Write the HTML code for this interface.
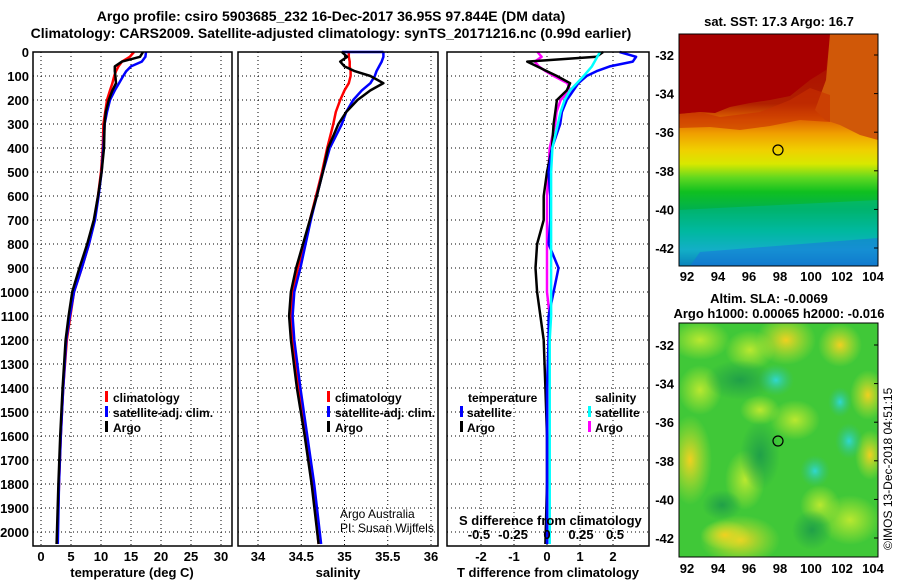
<!DOCTYPE html>
<html><head><meta charset="utf-8"><style>
html,body{margin:0;padding:0;background:#fff;}
svg{display:block;font-family:"Liberation Sans",Arial,sans-serif;font-weight:bold;}
</style></head><body>
<svg id="c" width="900" height="580" viewBox="0 0 900 580" xmlns="http://www.w3.org/2000/svg">
<defs>
<linearGradient id="sstg" x1="0" y1="0" x2="0" y2="1">
<stop offset="0" stop-color="#a80000"/><stop offset="0.30" stop-color="#b02000"/>
<stop offset="0.37" stop-color="#e06800"/><stop offset="0.43" stop-color="#f0a000"/>
<stop offset="0.50" stop-color="#f0d000"/><stop offset="0.56" stop-color="#d8e800"/>
<stop offset="0.62" stop-color="#60d820"/><stop offset="0.68" stop-color="#10c020"/>
<stop offset="0.76" stop-color="#00b050"/><stop offset="0.85" stop-color="#00b8a0"/>
<stop offset="0.93" stop-color="#20a8e0"/><stop offset="1" stop-color="#1060d0"/></linearGradient>
<radialGradient id="cy"><stop offset="0" stop-color="#30d8d0"/><stop offset="1" stop-color="#30c080" stop-opacity="0"/></radialGradient>
<radialGradient id="yl"><stop offset="0" stop-color="#f0d020"/><stop offset="1" stop-color="#c8e830" stop-opacity="0"/></radialGradient>
<radialGradient id="lg"><stop offset="0" stop-color="#b8e830"/><stop offset="1" stop-color="#b8e830" stop-opacity="0"/></radialGradient>
<radialGradient id="dg"><stop offset="0" stop-color="#20a048"/><stop offset="1" stop-color="#20a048" stop-opacity="0"/></radialGradient>
<clipPath id="m1"><rect x="679" y="34" width="199" height="232"/></clipPath>
<clipPath id="m2"><rect x="679" y="323" width="199" height="234"/></clipPath>
</defs>
<text x="331" y="21" text-anchor="middle" font-size="14">Argo profile: csiro 5903685_232 16-Dec-2017 36.95S 97.844E (DM data)</text>
<text x="331" y="38" text-anchor="middle" font-size="14">Climatology: CARS2009. Satellite-adjusted climatology: synTS_20171216.nc (0.99d earlier)</text>
<g id="grid"></g>
<g id="curves"></g>
<g id="frames"></g>
<g id="labels" font-size="13"></g>

<g font-size="12">
<rect x="105" y="391" width="3" height="11" fill="#f00"/><text x="113" y="402">climatology</text>
<rect x="105" y="406" width="3" height="11" fill="#00f"/><text x="113" y="417">satellite-adj. clim.</text>
<rect x="105" y="421" width="3" height="11" fill="#000"/><text x="113" y="432">Argo</text>
</g>
<g font-size="12">
<rect x="327" y="391" width="3" height="11" fill="#f00"/><text x="335" y="402">climatology</text>
<rect x="327" y="406" width="3" height="11" fill="#00f"/><text x="335" y="417">satellite-adj. clim.</text>
<rect x="327" y="421" width="3" height="11" fill="#000"/><text x="335" y="432">Argo</text>
</g>
<g font-size="12">
<text x="468" y="402">temperature</text><text x="595" y="402">salinity</text>
<rect x="460" y="406" width="3" height="11" fill="#00f"/><text x="467" y="417">satellite</text>
<rect x="460" y="421" width="3" height="11" fill="#000"/><text x="467" y="432">Argo</text>
<rect x="588" y="406" width="3" height="11" fill="#0ff"/><text x="595" y="417">satellite</text>
<rect x="588" y="421" width="3" height="11" fill="#f0f"/><text x="595" y="432">Argo</text>
</g>
<text x="340" y="518" font-size="12" font-weight="normal">Argo Australia</text>
<text x="340" y="532" font-size="12" font-weight="normal">PI: Susan Wijffels</text>
<text x="459" y="525" font-size="13">S difference from climatology</text>

<text x="779" y="26" text-anchor="middle" font-size="13">sat. SST: 17.3 Argo: 16.7</text>
<g clip-path="url(#m1)">
<rect x="679" y="34" width="199" height="232" fill="url(#sstg)"/>
<polygon points="679,34 830,34 826,70 810,80 800,88 790,96 770,100 750,103 730,107 715,113 700,112 679,114" fill="#a80000"/>
<polygon points="830,34 878,34 878,140 860,135 840,125 825,120 815,110 826,80" fill="#d05808"/>
<polygon points="679,114 700,112 720,117 760,112 790,100 810,88 830,95 830,122 800,120 770,126 740,130 710,127 679,128" fill="#c83000" opacity="0.6"/>
<polygon points="679,210 878,200 878,266 679,266" fill="#00b8a0" opacity="0.4"/>
<polygon points="700,252 878,238 878,266 690,266" fill="#1870e0" opacity="0.5"/>
</g>
<circle cx="778" cy="150" r="5" fill="none" stroke="#000" stroke-width="1.2"/>
<rect x="679" y="34" width="199" height="232" fill="none" stroke="#000"/>

<text x="769" y="303" text-anchor="middle" font-size="13">Altim. SLA: -0.0069</text>
<text x="779" y="318" text-anchor="middle" font-size="13">Argo h1000: 0.00065 h2000: -0.016</text>
<g clip-path="url(#m2)">
<rect x="679" y="323" width="199" height="234" fill="#40c838"/>
<ellipse cx="700" cy="340" rx="30" ry="20" fill="url(#lg)"/>
<ellipse cx="750" cy="350" rx="25" ry="20" fill="url(#lg)"/>
<ellipse cx="700" cy="390" rx="22" ry="25" fill="url(#lg)"/>
<ellipse cx="760" cy="410" rx="20" ry="15" fill="url(#lg)"/>
<ellipse cx="795" cy="420" rx="25" ry="20" fill="url(#lg)"/>
<ellipse cx="745" cy="480" rx="20" ry="30" fill="url(#lg)"/>
<ellipse cx="850" cy="520" rx="30" ry="25" fill="url(#lg)"/>
<ellipse cx="820" cy="505" rx="20" ry="20" fill="url(#lg)"/>
<ellipse cx="786" cy="340" rx="30" ry="25" fill="url(#yl)"/>
<ellipse cx="840" cy="345" rx="22" ry="22" fill="url(#yl)"/>
<ellipse cx="868" cy="395" rx="18" ry="25" fill="url(#yl)"/>
<ellipse cx="690" cy="460" rx="22" ry="45" fill="url(#yl)"/>
<ellipse cx="740" cy="540" rx="40" ry="25" fill="url(#yl)"/>
<ellipse cx="870" cy="455" rx="15" ry="25" fill="url(#yl)"/>
<ellipse cx="725" cy="535" rx="25" ry="15" fill="url(#yl)"/>
<ellipse cx="760" cy="455" rx="20" ry="35" fill="url(#dg)"/>
<ellipse cx="722" cy="505" rx="20" ry="15" fill="url(#dg)"/>
<ellipse cx="812" cy="530" rx="20" ry="20" fill="url(#dg)"/>
<ellipse cx="740" cy="380" rx="35" ry="20" fill="url(#dg)"/>
<ellipse cx="776" cy="380" rx="18" ry="16" fill="url(#cy)"/>
<ellipse cx="840" cy="402" rx="12" ry="15" fill="url(#cy)"/>
<ellipse cx="849" cy="441" rx="14" ry="18" fill="url(#cy)"/>
<ellipse cx="815" cy="471" rx="15" ry="16" fill="url(#cy)"/>
</g>
<circle cx="778" cy="441" r="5" fill="none" stroke="#000" stroke-width="1.2"/>
<rect x="679" y="323" width="199" height="234" fill="none" stroke="#000"/>
<g id="maplabels" font-size="13"></g>
<text transform="translate(892,550) rotate(-90)" font-size="12" font-weight="normal">©IMOS 13-Dec-2018 04:51:15</text>
</svg>
<script>
const depths = [0,20,40,60,80,100,130,160,200,250,300,400,500,600,700,800,900,1000,1100,1200,1400,1600,1800,2050];
const argoT = [17.0,16.5,13.5,12.3,12.3,12.4,12.5,11.9,11.3,10.8,10.6,10.5,10.1,9.5,8.8,7.7,6.4,5.2,4.6,4.1,3.6,3.2,2.9,2.6];
const climT = [15.5,14.8,13.5,12.9,12.5,12.2,11.9,11.5,11.0,10.7,10.4,10.3,10.0,9.5,8.9,8.0,6.8,5.5,4.9,4.3,3.7,3.3,3.0,2.7];
const satT = [17.5,17.4,16.8,15.0,14.2,13.7,13.0,12.3,11.5,11.0,10.6,10.4,10.1,9.6,9.0,8.0,6.8,5.5,4.8,4.2,3.7,3.3,3.0,2.8];
const argoS = [34.97,35.03,34.95,35.0,35.12,35.3,35.45,35.3,35.15,35.02,34.93,34.81,34.75,34.68,34.6,34.52,34.44,34.38,34.36,34.38,34.45,34.54,34.62,34.7];
const climS = [35.05,35.05,35.06,35.06,35.07,35.07,35.05,35.0,34.95,34.9,34.87,34.8,34.74,34.67,34.6,34.53,34.46,34.4,34.38,34.4,34.47,34.55,34.63,34.7];
const satS = [35.45,35.45,35.43,35.4,35.37,35.35,35.3,35.2,35.1,35.02,34.97,34.83,34.75,34.68,34.61,34.55,34.49,34.42,34.4,34.42,34.49,34.57,34.65,34.73];
const satSsurfaceStart = 34.97;
const dTsat = [2.2,2.7,2.6,1.9,1.5,1.2,0.95,0.8,0.6,0.45,0.4,0.15,0.05,0.1,0.1,0.05,0.35,0.2,0.05,0.05,0.0,0.0,0.0,0.0];
const dTargo = [1.7,1.5,-0.6,-0.3,0.0,0.3,0.7,0.6,0.3,0.25,0.2,0.15,0.0,-0.1,-0.1,-0.3,-0.35,-0.3,-0.2,-0.1,-0.05,0.0,0.0,-0.05];
const dSsat = [0.39,0.37,0.35,0.33,0.3,0.27,0.22,0.17,0.13,0.1,0.08,0.04,0.03,0.03,0.03,0.03,0.03,0.03,0.03,0.02,0.02,0.02,0.02,0.02];
const dSargo = [-0.07,-0.04,-0.09,-0.06,-0.01,0.05,0.15,0.17,0.1,0.07,0.06,0.02,0.01,0.0,0.0,0.0,0.0,0.0,0.02,0.01,0.01,0.01,0.01,0.01];
const depthTicks = [0,100,200,300,400,500,600,700,800,900,1000,1100,1200,1300,1400,1500,1600,1700,1800,1900,2000];
const tTicks = [0,5,10,15,20,25,30];
const sTicks = [34,34.5,35,35.5,36];
const sTickLabels = ["34","34.5","35","35.5","36"];
const dtTicks = [-2,-1,0,1,2];
const dsTicks = [-0.5,-0.25,0,0.25,0.5];
const dsTickLabels = ["-0.5","-0.25","0","0.25","0.5"];
const latTicks = [-32,-34,-36,-38,-40,-42];
const lonTicks = [92,94,96,98,100,102,104];

const NS='http://www.w3.org/2000/svg';
const Y0=52, YB=546;
const yD = d => Y0 + d*0.24;
const xT = t => 41 + t*6;
const xS = s => 258 + (s-34)*86.5;
const xDT = t => 547 + t*33;
const xDS = s => 547 + s*136;
const yLat1 = l => 55 + (-32 - l)*19.3;
const yLat2 = l => 345 + (-32 - l)*19.3;
const xLon = l => 687 + (l-92)*15.5;
const panels = [[33,232],[238,438],[447,649]];

function mk(tag, attrs, parent){const e=document.createElementNS(NS,tag);for(const k in attrs)e.setAttribute(k,attrs[k]);parent.appendChild(e);return e;}
const grid=document.getElementById('grid'), curves=document.getElementById('curves'), frames=document.getElementById('frames'), labels=document.getElementById('labels'), ml=document.getElementById('maplabels');
const dot={stroke:'#000','stroke-width':1,'stroke-dasharray':'1 3'};

panels.forEach(([a,b],i)=>{
  depthTicks.forEach(d=>{ if(d>0){const l=mk('line',Object.assign({x1:a,x2:b,y1:yD(d),y2:yD(d)},dot),grid);
    
    }});
  const f=mk('rect',{x:a,y:Y0,width:b-a,height:YB-Y0,fill:'none',stroke:'#000','stroke-width':1.5},frames);
  
  
});
function vgrid(vals,fx){vals.forEach(v=>{const l=mk('line',Object.assign({x1:fx(v),x2:fx(v),y1:Y0,y2:YB},dot),grid);
  
  });}
vgrid(tTicks,xT); vgrid(sTicks,xS); vgrid(dtTicks,xDT);

depthTicks.forEach(d=>{const t=mk('text',{x:29,y:yD(d)+5,'text-anchor':'end'},labels);t.textContent=d;
  
  });
function xlabels(vals,txts,fx,y){vals.forEach((v,i)=>{const t=mk('text',{x:fx(v),y:y,'text-anchor':'middle'},labels);t.textContent=txts?txts[i]:v;
  
  });}
xlabels(tTicks,null,xT,561); xlabels(sTicks,sTickLabels,xS,561); xlabels(dtTicks,null,xDT,561); xlabels(dsTicks,dsTickLabels,xDS,539);
[['temperature (deg C)',132,'temperature-axis-title'],['salinity',338,'salinity-axis-title'],['T difference from climatology',548,'t-difference-axis-title']].forEach(([s,x,n])=>{
  const t=mk('text',{x:x,y:577,'text-anchor':'middle'},labels);t.textContent=s;
  
  });

function line(vals,fx,color,name,w){
  const pts=vals.map((v,i)=>fx(v).toFixed(1)+','+yD(depths[i]).toFixed(1)).join(' ');
  const p=mk('polyline',{points:pts,fill:'none',stroke:color,'stroke-width':w||2.5,'stroke-linejoin':'round'},curves);
  
  
}
line(climT,xT,'#f00','temperature-climatology-line');
line(satT,xT,'#00f','temperature-satellite-line');
line(argoT,xT,'#000','temperature-argo-line');
line(climS,xS,'#f00','salinity-climatology-line');
line(satS,xS,'#00f','salinity-satellite-line');
const sl=mk('line',{x1:xS(satSsurfaceStart),x2:xS(satS[0]),y1:yD(0),y2:yD(0),stroke:'#00f','stroke-width':2.5},curves);


line(argoS,xS,'#000','salinity-argo-line');
line(dSargo,xDS,'#f0f','salinity-diff-argo-line');
line(dTargo,xDT,'#000','temperature-diff-argo-line');
line(dTsat,xDT,'#00f','temperature-diff-satellite-line');
line(dSsat,xDS,'#0ff','salinity-diff-satellite-line');

latTicks.forEach(l=>{
  [[yLat1(l),'sst-lat-label'],[yLat2(l),'sla-lat-label']].forEach(([y,n])=>{
    const t=mk('text',{x:674,y:y+5,'text-anchor':'end'},ml);t.textContent=l;
    
    
    mk('line',{x1:874,x2:878,y1:y,y2:y,stroke:'#000'},ml);
  });
});
lonTicks.forEach(l=>{
  [[281,'sst-lon-label'],[573,'sla-lon-label']].forEach(([y,n])=>{
    const t=mk('text',{x:xLon(l),y:y,'text-anchor':'middle'},ml);t.textContent=l;
    
    
  });
});
</script>
</body></html>
